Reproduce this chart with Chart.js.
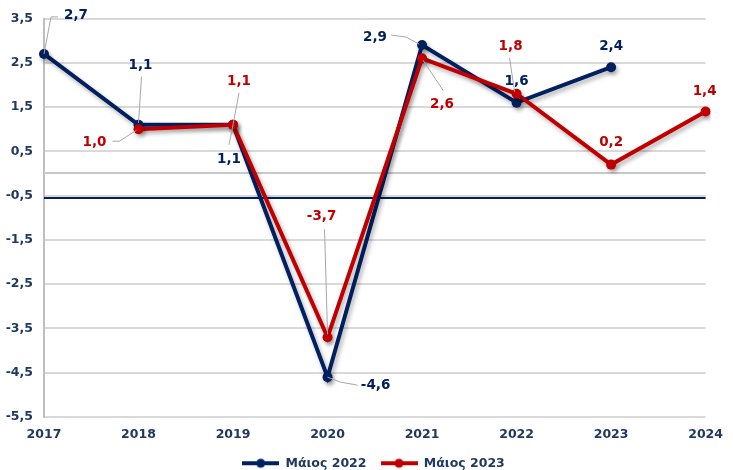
<!DOCTYPE html>
<html>
<head>
<meta charset="utf-8">
<script src="https://cdn.jsdelivr.net/npm/chart.js@4.4.0/dist/chart.umd.min.js"></script>
<style>
  html, body { margin: 0; padding: 0; background: #fff; }
  #wrap { width: 733px; height: 470px; }
</style>
</head>
<body>
<div id="wrap"><canvas id="chart" width="733" height="470"></canvas></div>
<script>
const years = ["2017", "2018", "2019", "2020", "2021", "2022", "2023", "2024"];
const may2022 = [2.7, 1.1, 1.1, -4.6, 2.9, 1.6, 2.4, null];
const may2023 = [null, 1.0, 1.1, -3.7, 2.6, 1.8, 0.2, 1.4];
const seriesNames = ["Μάιος 2022", "Μάιος 2023"];
const yMin = -5.5, yMax = 3.5, yStep = 1;
const zeroLine = 0, markLine = -0.5;

const NAVY = "#002060";
const RED = "#C00000";
const TEXT = "#1F3864";
const FONT = "'DejaVu Sans', Verdana, sans-serif";

// label offsets from each point (px), with leader line polylines
const labelLayout = [
  [
    { dx: 32, dy: -38, lead: [[0, 0], [7, -37], [14, -37]] },
    { dx: 2, dy: -59, lead: [[0, -2], [3, -48]] },
    { dx: -4, dy: 35, lead: [[0, 0], [-4, 20]] },
    { dx: 48, dy: 8, lead: [[0, 0], [13, 5], [30, 8]] },
    { dx: -47, dy: -8, lead: [[-3, -1], [-16, -8], [-31, -10]] },
    { dx: 0, dy: -21 },
    { dx: 0, dy: -21 },
    null
  ],
  [
    null,
    { dx: -44, dy: 13, lead: [[-2, 1], [-19, 12], [-26, 12]] },
    { dx: 6, dy: -43, lead: [[0, 0], [6, -32]] },
    { dx: -6, dy: -121, lead: [[0, -3], [-3, -108]] },
    { dx: 20, dy: 46, lead: [[1, 2], [21, 32]] },
    { dx: -6, dy: -47, lead: [[-2, -2], [-7, -36]] },
    { dx: 0, dy: -22 },
    { dx: -1, dy: -20 }
  ]
];

function fmt(v) {
  return v.toFixed(1).replace(".", ",");
}

function legendMarker(color) {
  const c = document.createElement("canvas");
  c.width = 37;
  c.height = 12;
  const g = c.getContext("2d");
  g.strokeStyle = color;
  g.lineWidth = 4;
  g.beginPath();
  g.moveTo(0, 6);
  g.lineTo(37, 6);
  g.stroke();
  g.fillStyle = color;
  g.beginPath();
  g.arc(18.5, 6, 4.5, 0, Math.PI * 2);
  g.fill();
  return c;
}
const markers = [legendMarker(NAVY), legendMarker(RED)];

const refLines = {
  id: "refLines",
  beforeDatasetsDraw(chart) {
    const { ctx, chartArea, scales } = chart;
    const y0 = scales.y.getPixelForValue(zeroLine);
    const y1 = scales.y.getPixelForValue(markLine);
    ctx.save();
    ctx.lineWidth = 2;
    ctx.strokeStyle = "#C8C8C8";
    ctx.beginPath();
    ctx.moveTo(chartArea.left, Math.round(y0));
    ctx.lineTo(chartArea.right, Math.round(y0));
    ctx.stroke();
    ctx.strokeStyle = NAVY;
    ctx.beginPath();
    ctx.moveTo(chartArea.left, Math.round(y1) + 2);
    ctx.lineTo(chartArea.right, Math.round(y1) + 2);
    ctx.stroke();
    ctx.restore();
  }
};

const lineShadow = {
  id: "lineShadow",
  beforeDatasetsDraw(chart) {
    const ctx = chart.ctx;
    ctx.save();
    ctx.shadowColor = "rgba(0,0,0,0.3)";
    ctx.shadowBlur = 4;
    ctx.shadowOffsetX = 2;
    ctx.shadowOffsetY = 3;
  },
  afterDatasetsDraw(chart) {
    chart.ctx.restore();
  }
};

const dataLabels = {
  id: "dataLabels",
  afterDatasetsDraw(chart) {
    const ctx = chart.ctx;
    ctx.save();
    chart.data.datasets.forEach((ds, di) => {
      const meta = chart.getDatasetMeta(di);
      meta.data.forEach((pt, i) => {
        const v = ds.data[i];
        const lay = labelLayout[di][i];
        if (v == null || !lay) return;
        if (lay.lead) {
          ctx.strokeStyle = "#A6A6A6";
          ctx.lineWidth = 1;
          ctx.beginPath();
          lay.lead.forEach(([lx, ly], k) => {
            if (k === 0) ctx.moveTo(pt.x + lx, pt.y + ly);
            else ctx.lineTo(pt.x + lx, pt.y + ly);
          });
          ctx.stroke();
        }
        ctx.fillStyle = ds.borderColor;
        ctx.font = "bold 13.5px " + FONT;
        ctx.textAlign = "center";
        ctx.textBaseline = "middle";
        ctx.fillText(fmt(v), pt.x + lay.dx, pt.y + lay.dy);
      });
    });
    ctx.restore();
  }
};

// legend sits a bit right of centre in the original
const legendShift = {
  id: "legendShift",
  afterLayout(chart) {
    if (chart.legend) chart.legend.left += 34;
  }
};

new Chart(document.getElementById("chart"), {
  type: "line",
  data: {
    labels: years,
    datasets: [
      {
        label: seriesNames[0],
        data: may2022,
        borderColor: NAVY,
        backgroundColor: NAVY,
        borderWidth: 4,
        pointRadius: 5,
        pointHoverRadius: 5,
        pointBorderWidth: 0,
        pointBackgroundColor: NAVY,
        spanGaps: false,
        order: 1
      },
      {
        label: seriesNames[1],
        data: may2023,
        borderColor: RED,
        backgroundColor: RED,
        borderWidth: 4,
        pointRadius: 5,
        pointHoverRadius: 5,
        pointBorderWidth: 0,
        pointBackgroundColor: RED,
        spanGaps: false,
        order: 0
      }
    ]
  },
  options: {
    responsive: false,
    animation: false,
    devicePixelRatio: 1,
    layout: { padding: { top: 18, right: 20, left: 0, bottom: 0 } },
    scales: {
      x: {
        offset: false,
        grid: { display: false, drawTicks: false },
        border: { display: false },
        ticks: { color: TEXT, padding: 10, font: { family: FONT, size: 12.5, weight: "bold" }, maxRotation: 0 },
        afterFit(scale) { scale.height = 26; }
      },
      y: {
        min: yMin,
        max: yMax,
        ticks: {
          stepSize: yStep,
          color: TEXT,
          padding: 11,
          font: { family: FONT, size: 12.5, weight: "bold" },
          callback: v => fmt(v)
        },
        grid: {
          drawTicks: false,
          color: "#D9D9D9",
          lineWidth: 2
        },
        border: { display: true, color: "#BFBFBF", width: 2 },
        afterFit(scale) { scale.width = 44; }
      }
    },
    plugins: {
      legend: {
        position: "bottom",
        maxHeight: 27,
        labels: {
          usePointStyle: true,
          pointStyleWidth: 37,
          color: TEXT,
          padding: 14,
          font: { family: FONT, size: 12.5, weight: "bold" },
          sort: (a, b) => a.datasetIndex - b.datasetIndex,
          generateLabels(chart) {
            const items = Chart.defaults.plugins.legend.labels.generateLabels(chart);
            items.forEach(it => { it.pointStyle = markers[it.datasetIndex]; });
            return items;
          }
        }
      },
      tooltip: { enabled: false }
    }
  },
  plugins: [refLines, lineShadow, dataLabels, legendShift]
});
</script>
</body>
</html>
